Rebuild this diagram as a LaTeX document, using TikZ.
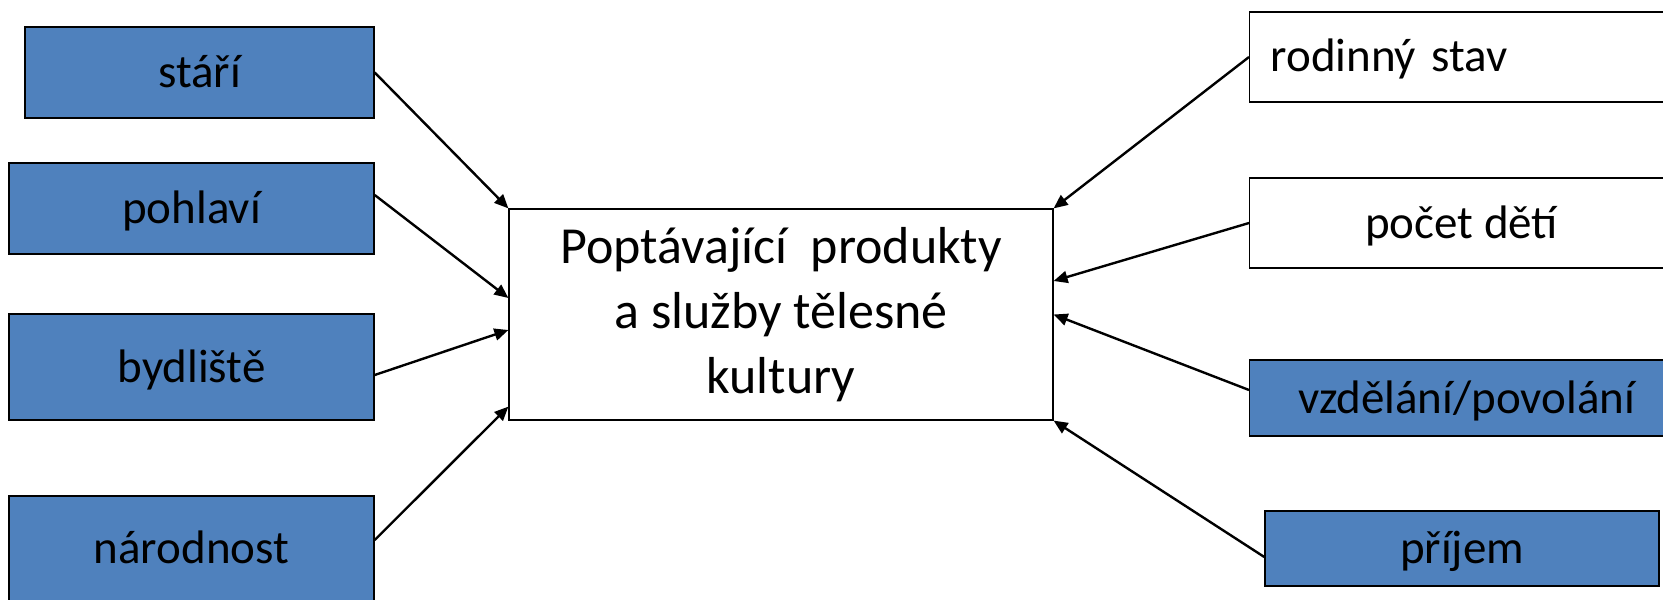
\documentclass[tikz,border=0pt]{standalone}
\usepackage{fontspec}
\setmainfont{Carlito}
\usetikzlibrary{arrows.meta}
\definecolor{ppblue}{HTML}{4F81BD}
\begin{document}
\begin{tikzpicture}[x=0.5pt, y=-0.5pt,
        modry/.style={draw=black, line width=0.7pt, fill=ppblue, inner sep=0pt, text height=21pt, text depth=6pt, font=\fontsize{23.5}{28}\selectfont},
        bily/.style={draw=black, line width=0.6pt, fill=white, inner sep=0pt, text height=21pt, text depth=6pt, font=\fontsize{23.5}{28}\selectfont},
        sipka/.style={-{Triangle[length=7pt, width=6pt]}, line width=1.2pt}]
            \useasboundingbox (0,0) rectangle (1663,599);
            \clip (0,0) rectangle (1663,599);

            \node[draw=black, line width=0.6pt, fill=white, inner sep=0pt, minimum width=272pt, minimum height=105.5pt, align=center,
                font=\fontsize{26}{32.5}\selectfont] (Popt) at (781,314.5)
                {Poptávající~ produkty\\a služby tělesné\\kultury};

            \node[modry, minimum width=174.5pt, minimum height=45.5pt] (Star) at (199.5,72.5) {stáří};
            \node[modry, minimum width=182.5pt, minimum height=45.5pt] (Pohl) at (191.5,208.5) {pohlaví};
            \node[modry, minimum width=182.5pt, minimum height=53pt] (Bydl) at (191.5,367) {bydliště};
            \node[modry, minimum width=182.5pt, minimum height=52.5pt] (Nar) at (191.5,548.5) {národnost};

            \node[bily, anchor=west, text width=199pt, inner xsep=10.5pt, minimum height=45pt, align=left] (Rod) at (1249,57) {rodinný stav};
            \node[bily, anchor=west, minimum width=212pt, minimum height=45pt] (Pocet) at (1249,223) {počet dětí};
            \node[modry, anchor=west, minimum width=217pt, minimum height=38pt] (Vzd) at (1249,398) {vzdělání/povolání};
            \node[modry, minimum width=197pt, minimum height=37.5pt] (Prij) at (1462,548.5) {příjem};

            \draw (Star.east) edge[sipka] (Popt.north west);
            \draw ([yshift=6.75pt]Pohl.east) edge[sipka] ([yshift=8.25pt]Popt.west);
            \draw ([yshift=-4pt]Bydl.east) edge[sipka] ([yshift=-7.75pt]Popt.west);
            \draw ([yshift=4.25pt]Nar.east) edge[sipka] ([yshift=7pt]Popt.south west);

            \draw (Rod.west) edge[sipka] (Popt.north east);
            \draw (Pocet.west) edge[sipka] ([yshift=16.75pt]Popt.east);
            \draw ([yshift=4pt]Vzd.west) edge[sipka] (Popt.east);
            \draw ([yshift=-4.25pt]Prij.west) edge[sipka] (Popt.south east);
        \end{tikzpicture}
\end{document}
